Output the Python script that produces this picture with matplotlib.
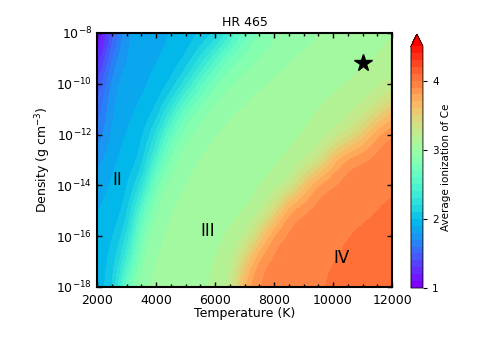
import numpy as np
import matplotlib
matplotlib.use("Agg")
import matplotlib.pyplot as plt
from matplotlib.colors import BoundaryNorm
from matplotlib.ticker import MultipleLocator, FuncFormatter

# grid: temperature (K) columns, log10 density rows
temperature = [2000, 2500, 3000, 3500, 4000, 4500, 5000, 5500, 6000, 6500, 7000,
               7500, 8000, 8500, 9000, 9500, 10000, 10500, 11000, 11500, 12000]
log_density = [-18, -17, -16, -15, -14, -13, -12, -11, -10, -9, -8]

# average ionization of Ce, one row per log_density entry
ion_m18 = [1.99, 1.985, 2.78, 2.98, 3.03, 3.06, 3.08, 3.09, 3.11, 3.20, 3.80,
           3.92, 3.94, 3.96, 3.97, 3.99, 4.02, 4.04, 4.06, 4.07, 4.09]
ion_m17 = [1.97, 1.99, 2.40, 2.92, 3.01, 3.04, 3.06, 3.08, 3.10, 3.16, 3.50,
           3.91, 3.93, 3.95, 3.97, 3.98, 4.00, 4.02, 4.04, 4.06, 4.08]
ion_m16 = [1.94, 1.97, 2.15, 2.84, 2.98, 3.02, 3.04, 3.06, 3.08, 3.11, 3.18,
           3.50, 3.91, 3.93, 3.95, 3.96, 3.98, 4.00, 4.02, 4.04, 4.06]
ion_m15 = [1.89, 1.95, 1.99, 2.60, 2.93, 3.01, 3.03, 3.04, 3.06, 3.07, 3.09,
           3.14, 3.40, 3.88, 3.93, 3.94, 3.95, 3.97, 3.98, 4.00, 4.03]
ion_m14 = [1.85, 1.92, 1.96, 2.20, 2.85, 2.95, 3.01, 3.03, 3.04, 3.06, 3.07,
           3.09, 3.12, 3.19, 3.60, 3.91, 3.93, 3.94, 3.95, 3.97, 3.98]
ion_m13 = [1.75, 1.89, 1.94, 1.98, 2.50, 2.87, 2.96, 3.02, 3.03, 3.04, 3.05,
           3.07, 3.09, 3.11, 3.16, 3.27, 3.70, 3.92, 3.94, 3.96, 3.98]
ion_m12 = [1.60, 1.84, 1.91, 1.96, 2.20, 2.70, 2.88, 2.95, 3.01, 3.03, 3.04,
           3.05, 3.07, 3.08, 3.10, 3.13, 3.18, 3.30, 3.55, 3.85, 3.95]
ion_m11 = [1.50, 1.82, 1.87, 1.92, 1.97, 2.30, 2.70, 2.86, 2.93, 2.99, 3.02,
           3.03, 3.04, 3.06, 3.08, 3.10, 3.13, 3.16, 3.21, 3.35, 3.60]
ion_m10 = [1.35, 1.80, 1.84, 1.88, 1.93, 1.98, 2.25, 2.60, 2.82, 2.90, 2.95,
           3.00, 3.02, 3.04, 3.06, 3.07, 3.08, 3.10, 3.13, 3.16, 3.20]
ion_m9 = [1.15, 1.65, 1.82, 1.86, 1.89, 1.93, 1.98, 2.20, 2.50, 2.77, 2.85,
          2.91, 2.95, 3.00, 3.02, 3.04, 3.06, 3.07, 3.08, 3.10, 3.14]
ion_m8 = [1.00, 1.45, 1.81, 1.84, 1.87, 1.90, 1.94, 1.98, 2.05, 2.35, 2.65,
          2.82, 2.88, 2.92, 2.96, 3.00, 3.03, 3.05, 3.07, 3.08, 3.09]

ionization = np.array([ion_m18, ion_m17, ion_m16, ion_m15, ion_m14, ion_m13,
                       ion_m12, ion_m11, ion_m10, ion_m9, ion_m8])

star_T = 11000
star_logrho = -9.2

region_labels = [("II", 2700, -13.8), ("III", 5750, -15.8), ("IV", 10300, -16.85)]

fig = plt.figure(figsize=(4.91, 3.40), dpi=100)
ax = fig.add_axes([0.1976, 0.156, 0.601, 0.747])
cax = fig.add_axes([0.837, 0.153, 0.0244, 0.747])

levels = np.arange(1.0, 4.501, 0.1)
cmap = plt.get_cmap("rainbow")
norm = BoundaryNorm(levels, ncolors=cmap.N, extend="max")

dT = (temperature[1] - temperature[0]) / 2
dR = (log_density[1] - log_density[0]) / 2
im = ax.imshow(ionization, origin="lower", aspect="auto", cmap=cmap, norm=norm,
               interpolation="bicubic", interpolation_stage="data",
               extent=[temperature[0] - dT, temperature[-1] + dT,
                       log_density[0] - dR, log_density[-1] + dR])

ax.plot(star_T, star_logrho, marker="*", color="black", markersize=13,
        linestyle="none")
for txt, tx, ty in region_labels:
    ax.text(tx, ty, txt, fontsize=12, ha="center", va="center")

ax.set_xlim(2000, 12000)
ax.set_ylim(-18, -8)
ax.xaxis.set_major_locator(MultipleLocator(2000))
ax.xaxis.set_minor_locator(MultipleLocator(500))
ax.yaxis.set_major_locator(MultipleLocator(2))
ax.yaxis.set_major_formatter(FuncFormatter(lambda v, p: r"$10^{%d}$" % round(v)))
ax.tick_params(which="both", direction="in", top=True, right=True,
               labelsize=9)
ax.tick_params(axis="x", pad=5)
ax.tick_params(which="major", length=3.5, width=1)
ax.tick_params(which="minor", length=2, width=1)
for sp in ax.spines.values():
    sp.set_linewidth(1.5)

ax.set_xlabel("Temperature (K)", fontsize=9, labelpad=0)
ax.set_ylabel(r"Density (g cm$^{-3}$)", fontsize=9, labelpad=2)
ax.set_title("HR 465", fontsize=9, pad=5)

cb = fig.colorbar(im, cax=cax, ticks=[1, 2, 3, 4], extend="max")
cb.ax.minorticks_off()
cb.ax.tick_params(labelsize=7.5, length=3, width=0.8)
cb.outline.set_linewidth(0.6)
cb.set_label("Average ionization of Ce", fontsize=7.5, labelpad=2)

plt.savefig("out.png", dpi=100)
